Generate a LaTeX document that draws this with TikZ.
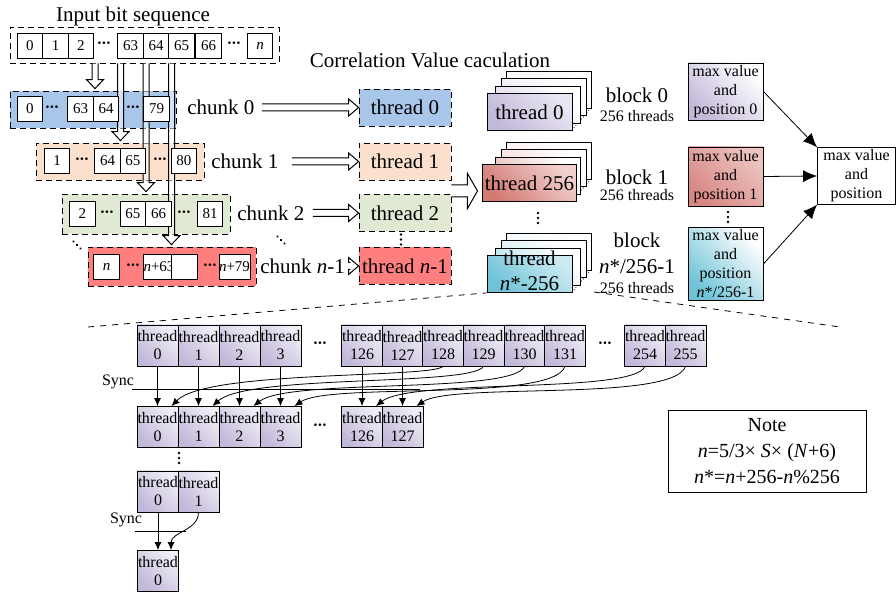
\documentclass[tikz,border=0pt]{standalone}
\usepackage{fontspec}
\setmainfont{Liberation Serif}
\usetikzlibrary{calc,arrows.meta}

\definecolor{chblue}{HTML}{A8C6EA}
\definecolor{chpeach}{HTML}{FBE0CD}
\definecolor{chgreen}{HTML}{E0E9D3}
\definecolor{chred}{HTML}{FF7F7F}
\definecolor{lav}{HTML}{C2B8D9}
\definecolor{rose}{HTML}{D47A74}
\definecolor{aqua}{HTML}{6EC3D7}

% dot leaders
\newcommand{\hdts}{\textbf{·\kern-0.4pt·\kern-0.4pt·}}

\tikzset{
  lbl/.style={inner sep=1pt, font=\fontsize{10.5}{12.5}\selectfont},
  small/.style={inner sep=1pt, font=\fontsize{8}{9}\selectfont},
  dots/.style={inner sep=0pt, font=\fontsize{8}{8}\selectfont},
  vdots/.pic={\foreach \i in {-1,0,1} \fill (0,\i*5) circle (0.65pt);},
  cell/.style={draw, fill=white, minimum width=12.75pt, minimum height=12.5pt, inner sep=0pt, font=\fontsize{7.5}{8}\selectfont},
  chunkbox/.style={draw, densely dashed, inner sep=0pt},
  thbox/.style={draw, densely dashed, minimum width=46pt, minimum height=18.5pt, inner sep=0pt, font=\fontsize{10.5}{12}\selectfont},
  grad/.style 2 args={bottom color=#1, top color=#2, shading angle=-45},
  layer/.style={draw, minimum width=42.5pt, minimum height=18.5pt, inner sep=0pt},
  maxbox/.style={draw, minimum width=37.5pt, minimum height=28.5pt, inner sep=1pt, align=center, font=\fontsize{8}{9.5}\selectfont},
  tcell/.style={draw, grad={lav}{lav!25}, minimum width=20.5pt, minimum height=20.5pt, inner sep=0pt, align=center, font=\fontsize{8}{9}\selectfont},
  fat/.style={draw, fill=white, fill opacity=0.5, line width=0.5pt},
  arr/.style={-{Latex[length=7pt,width=6pt]}},
  sarr/.style={-{Latex[length=4pt,width=3.5pt]}},
}

% hollow block arrows
\newcommand{\fatdown}[2]{%
  \path[fat] ($#1+(-3,0)$) -- ($#2+(-3,-9)$) -- ($#2+(-8.5,-9)$) -- #2
    -- ($#2+(8.5,-9)$) -- ($#2+(3,-9)$) -- ($#1+(3,0)$);}
\newcommand{\fatright}[4]{%
  \path[fat] ($#1+(0,-#3)$) -- ($#2+(-10,-#3)$) -- ($#2+(-10,-#4)$) -- #2
    -- ($#2+(-10,#4)$) -- ($#2+(-10,#3)$) -- ($#1+(0,#3)$);}
% stack of thread layers for one block
\newcommand{\blockstack}[4]{%
  \draw[densely dotted] ($#2+(42.5,18)$) -- ($#2+(61.5,-4)$);
  \foreach \dx/\dy/\k in {19/-22/10, 14/-15/25, 8/-7/50}
    \node[layer, grad={#3!\k}{white}] at ($#2+(\dx,\dy)$) {};
  \node[layer, grad={#3}{#3!35}, lbl] (#1) at #2 {#4};}

\begin{document}
\begin{tikzpicture}[x=0.5pt, y=-0.5pt]
\useasboundingbox (0,0) rectangle (896,593);

% input sequence
\node[lbl] (title) at (133,16) {Input bit sequence};
\node[chunkbox, minimum width=134.5pt, minimum height=18pt] (seq) at (144.5,45) {};
\foreach \t/\x in {0/30,1/55.5,2/81,63/130.5,64/156,65/181.5,66/208.5}
  \node[cell] (s\t) at (\x,45.5) {\t};
\node[cell] (sn) at (260,45.5) {\textit{n}};
\node[dots] at (104,45) {\hdts};
\node[dots] at (234,45) {\hdts};

% chunk boxes
\node[chunkbox, fill=chblue, minimum width=83pt, minimum height=18.5pt] (ch0) at (93,109.5) {};
\node[chunkbox, fill=chpeach, minimum width=84pt, minimum height=18.5pt] (ch1) at (120,161.5) {};
\node[chunkbox, fill=chgreen, minimum width=84pt, minimum height=20pt] (ch2) at (146,214) {};
\node[chunkbox, fill=chred, minimum width=84pt, minimum height=19.5pt] (chn) at (172,266.5) {};

% arrows from the sequence to the chunks
\coordinate (v0) at (95,0);
\coordinate (v1) at (120.5,0);
\coordinate (v2) at (146,0);
\coordinate (v3) at (171.5,0);
\coordinate (p0) at ($(v0 |- ch0.north)+(0,-2)$);
\coordinate (p1) at ($(v1 |- ch1.north)+(0,-2)$);
\coordinate (p2) at ($(v2 |- ch2.north)+(0,-2)$);
\coordinate (p3) at ($(v3 |- chn.north)+(0,-2)$);
\fatdown{(v0 |- seq.south)}{(p0)}
\fatdown{(v1 |- seq.south)}{(p1)}
\fatdown{(v2 |- seq.south)}{(p2)}
\fatdown{(v3 |- seq.south)}{(p3)}

% chunk cells
\foreach \t/\x in {0/30,63/80.5,64/106,79/156.5}
  \node[cell] at (\x,109) {\t};
\foreach \x in {52,133} \node[dots] at (\x,109) {\hdts};
\foreach \t/\x in {1/57,64/107.5,65/133,80/184}
  \node[cell] at (\x,161) {\t};
\foreach \x in {82,160} \node[dots] at (\x,161) {\hdts};
\foreach \t/\x in {2/82.5,65/133,66/158.5,81/210}
  \node[cell] at (\x,214) {\t};
\foreach \x in {107,184} \node[dots] at (\x,214) {\hdts};
\node[cell] at (106.5,267) {\textit{n}};
\node[cell] at (159,267) {\textit{n}+63};
\node[cell] at (184.5,267) {};
\node[cell] at (234.5,267) {\textit{n}+79};
\foreach \x in {133,210} \node[dots] at (\x,267) {\hdts};
\pic[rotate=45] at (77,245) {vdots};
\pic[rotate=45] at (281,240) {vdots};

% threads
\node[lbl] (corr) at (430,60) {Correlation Value caculation};
\node[thbox, fill=chblue] (th0) at (405,107.5) {thread 0};
\node[thbox, fill=chpeach] (th1) at (405,161.5) {thread 1};
\node[thbox, fill=chgreen] (th2) at (405,213) {thread 2};
\node[thbox, fill=chred] (thn) at (405,266) {thread \textit{n}-1};
\pic at (401,239.5) {vdots};

\node[lbl, anchor=west] (c0lbl) at (185,107.5) {chunk 0};
\node[lbl, anchor=west] (c1lbl) at (209,161.5) {chunk 1};
\node[lbl, anchor=west] (c2lbl) at (235,213) {chunk 2};
\node[lbl, anchor=west] (cnlbl) at (258,266) {chunk \textit{n}-1};
\coordinate (a0) at ($(c0lbl.east)+(5,0)$);
\coordinate (a1) at ($(c1lbl.east)+(11,0)$);
\coordinate (a2) at ($(c2lbl.east)+(6,0)$);
\coordinate (a3) at ($(cnlbl.east)+(3,0)$);
\fatright{(a0)}{(th0.west)}{3.5}{8.5}
\fatright{(a1)}{(th1.west)}{3.5}{8.5}
\fatright{(a2)}{(th2.west)}{3.5}{8.5}
\fatright{(a3)}{(thn.west)}{3.5}{8.5}

% blocks
\blockstack{bl0}{(529.5,112)}{lav}{thread 0}
\blockstack{bl1}{(529.5,183)}{rose}{thread 256}
\blockstack{bln}{(529.5,274)}{aqua}{\raisebox{-2pt}[0pt][0pt]{\begin{tabular}{@{}c@{}}thread\\\textit{n}*-256\end{tabular}}}
\pic at (538,218) {vdots};
\coordinate (bt) at ($(bl1.west)+(-5,8)$);
\coordinate (bs) at ($(bt)+(-26,0)$);
\fatright{(bs)}{(bt)}{6}{17.5}

\node[lbl] at (637,95) {block 0};
\node[small] at (637,116) {256 threads};
\node[lbl] at (637,177) {block 1};
\node[small] at (637,195) {256 threads};
\node[lbl] at (637,240) {block};
\node[lbl] at (637,267) {\textit{n}*/256-1};
\node[small] at (637,288) {256 threads};

% max values
\node[maxbox, grad={lav}{white}] (mv0) at (725.5,91.5) {max value\\and\\position 0};
\node[maxbox, grad={rose!90}{rose!45}, minimum height=29.5pt] (mv1) at (725.5,176.5) {max value\\and\\position 1};
\node[maxbox, grad={aqua}{white}, minimum height=36pt] (mvn) at (725.5,264) {max value\\and\\position\\\textit{n}*/256-1};
\pic at (728,217) {vdots};
\node[maxbox, minimum width=39pt, minimum height=28pt] (fin) at (856.5,176) {max value\\and\\position};
\draw[arr] (mv0.east) -- (fin.north west);
\draw[arr] (mv1.east) -- (fin.west);
\draw[arr] (mvn.east) -- (fin.south west);

% zoom lines
\coordinate (zl) at (88,327);
\coordinate (zr) at (840,327);
\coordinate (zs) at (594,292);
\draw[dashed] (zl) -- (bln.south west);
\draw[dashed] (zs) -- (zr);

% reduction inside a block
\foreach \k/\x in {0/157.5,1/198.5,2/239.5,3/280.5,126/362,127/402.5,128/443,129/483.5,130/524.5,131/565,254/645,255/685.5}
  \node[tcell] (t\k) at (\x,345.5) {thread\\\k};
\foreach \k/\x in {0/157.5,1/198.5,2/239.5,3/280.5,126/362,127/402.5}
  \node[tcell] (b\k) at (\x,427) {thread\\\k};
\node[dots] at (320,345) {\hdts};
\node[dots] at (605,345) {\hdts};
\node[dots] at (320,427) {\hdts};

\node[small] (sync1) at (118,382) {Sync};
\coordinate (sy1) at (132,389);
\coordinate (sy2) at (420,389);
\draw (sy1) -- (sy2);
\foreach \k in {0,1,2,3,126,127}
  \draw[sarr] (t\k.south) -- (b\k.north);
\foreach \s/\t/\d in {128/0/6, 129/1/10, 130/2/14, 131/3/18, 254/126/14, 255/127/18}
  \draw[sarr] (t\s.south) .. controls +(-12,2*\d) and +(35,-42+\d) .. ([xshift=7pt]b\t.north);

\pic at (179,458) {vdots};
\node[tcell] (c0) at (158,491.5) {thread\\0};
\node[tcell] (c1) at (198.5,491.5) {thread\\1};
\node[tcell] (d0) at (158,571) {thread\\0};
\node[small] (sync2) at (126,520) {Sync};
\coordinate (sy3) at (135,531);
\coordinate (sy4) at (186,531);
\draw (sy3) -- (sy4);
\draw[sarr] (c0.south) -- (d0.north);
\draw[sarr] (c1.south) .. controls +(0,18) and +(0,-18) .. ([xshift=6.5pt]d0.north);

% note
\node[draw, align=center, minimum width=99pt, minimum height=41pt, font=\fontsize{10}{13}\selectfont] (note) at (767,451)
  {Note\\\textit{n}=5/3× \textit{S}× (\textit{N}+6)\\\textit{n}*=\textit{n}+256-\textit{n}\%256};
\end{tikzpicture}
\end{document}
